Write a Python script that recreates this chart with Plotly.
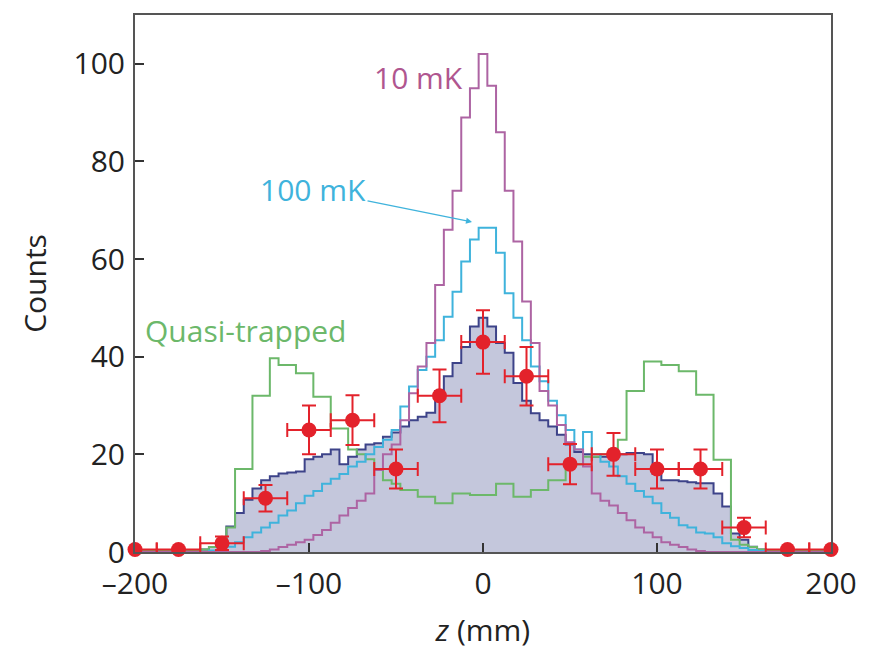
import numpy as np
import plotly.graph_objects as go

# bin centres (mm), 5 mm bins
z_bins = list(range(-200, 205, 5))

counts_10mK = [0]*15 + [0.2,0.5,1,1.5,2,2.5,3.5,4.5,6,7.5,9,10.5,12,16.8,20,22,27,32.5,38,42.8,54.7,66,74,89,95,
               102,
               95.5,86,74,63.6,51.3,42.8,33,30,26,22.5,21,17.5,12,10.5,9.5,8,6.5,5,4,3,2,1.5,1,0.5,0.2] + [0]*15

counts_100mK = [0]*9 + [0.3,0.6,1.1,2,3,4,5,6,7.5,8.5,10,11.5,12.5,14,15,16,17.5,18.5,20,21.5,23,25,29.8,33.9,37.3,40,43.4,48.2,53.3,59.5,64,
                66.4,
                66.4,61.3,53,48,43.4,38,35,31,28,25,21,24.6,20,18.5,17.5,15.5,14,12.5,11.3,10,8,7,5.5,5,4,3.8,3,1.8,1.2,0.8,0.4,0.2] + [0]*8

counts_quasi = [0.3]*8 + [0.5,1,2.5,5,17,17,32,32,39.7,38.3,38.3,36.6,36.6,31.8,31.8,25.3,25.3,21,20,19,17,14.7,14,12.7,12.7,11.3,11.3,10,10,12,12,11.7,
                11.7,
                11.7,14,14,11.3,11.3,12.7,12.7,14.7,14.7,18.2,18,19.5,19.5,20,21,23,33,33,39,39,38.3,38.3,37,37,32.2,32.2,18.9,18.9,2.5,1.5,1,0.5] + [0.3]*8

counts_model = [0.2]*8 + [0.5,1,2.5,5.2,8,10.7,13,14.7,15.5,16.1,16.3,16.5,19,19.5,20,21,18,19.5,21,22,22.3,23.6,24.5,25.7,27,27.7,28.5,33,36,38.7,42,46.2,
                48,
                46.2,42.8,40.8,34.6,31,28.4,27,25.7,24,22,20.5,20,19.5,19.5,19.5,20,20.3,20.3,20,16,14.7,14.7,14.5,14.3,14.1,14.1,12,9.3,3.8,2.5,1.1,0.5] + [0.2]*8

# measured data points
z_data = [-200,-175,-150,-125,-100,-75,-50,-25,0,25,50,75,100,125,150,175,200]
c_data = [0.5,0.5,1.8,11,25,27,17,32,43,36,18,20,17,17,5,0.5,0.5]
err_y = [0,0,1.4,2.7,5,5.1,4,5.4,6.5,6,4.1,4.4,4,4,2,0,0]
err_x = [12.5]*17

x_tickvals = [-200, -100, 0, 100, 200]
x_ticktext = ["\u2013200", "\u2013100", "0", "100", "200"]
y_tickvals = [0, 20, 40, 60, 80, 100]

PURPLE = "#ad64a3"
CYAN = "#3fb3dc"
GREEN = "#6cb86a"
NAVY = "#3d4389"
FILL = "#c4c7dc"
RED = "#e3222b"
FONT = "Open Sans"
FS = 30

fig = go.Figure()
fig.add_trace(go.Scatter(x=z_bins, y=counts_model, mode="lines", line=dict(shape="hvh", color=NAVY, width=2),
                         fill="tozeroy", fillcolor=FILL, showlegend=False))
fig.add_trace(go.Scatter(x=z_bins, y=counts_quasi, mode="lines", line=dict(shape="hvh", color=GREEN, width=2), showlegend=False))
fig.add_trace(go.Scatter(x=z_bins, y=counts_100mK, mode="lines", line=dict(shape="hvh", color=CYAN, width=2), showlegend=False))
fig.add_trace(go.Scatter(x=z_bins, y=counts_10mK, mode="lines", line=dict(shape="hvh", color=PURPLE, width=2), showlegend=False))
fig.add_trace(go.Scatter(x=z_data, y=c_data, mode="markers", cliponaxis=False,
                         marker=dict(color=RED, size=15),
                         error_x=dict(type="data", array=err_x, color=RED, thickness=2, width=7),
                         error_y=dict(type="data", array=err_y, color=RED, thickness=2, width=7),
                         showlegend=False))

fig.add_annotation(x=-37.3, y=97.1, text="10 mK", showarrow=False, font=dict(family=FONT, size=FS, color="#b0568f"))
fig.add_annotation(x=-136.6, y=45.3, text="Quasi-trapped", showarrow=False, font=dict(family=FONT, size=FS, color=GREEN))
fig.add_annotation(x=-6.3, y=67.6, ax=-159, ay=-32, text="100 mK", showarrow=True, arrowhead=2, arrowsize=1,
                   arrowwidth=1.2, arrowcolor=CYAN, font=dict(family=FONT, size=FS, color=CYAN))

axis_common = dict(showgrid=False, zeroline=False, ticks="inside", ticklen=9, tickwidth=1.5, tickcolor="#333",
                   showline=True, linecolor="#555", linewidth=2, mirror=True, automargin=False,
                   tickfont=dict(family=FONT, size=FS, color="#222"))
fig.update_xaxes(range=[-200, 200], tickvals=x_tickvals, ticktext=x_ticktext, ticklabelstandoff=4,
                 title=dict(text="<i>z</i> (mm)", font=dict(family=FONT, size=FS, color="#222"), standoff=26), **axis_common)
fig.update_yaxes(range=[0, 110], tickvals=y_tickvals, ticklabelstandoff=2,
                 title=dict(text="Counts", font=dict(family=FONT, size=FS, color="#222"), standoff=18), **axis_common)
# page body has an 8 px margin, so the figure is sized to fit the 883x650 window
fig.update_layout(width=875, height=642, margin=dict(l=127, r=52, t=7, b=98),
                  plot_bgcolor="white", paper_bgcolor="white")
fig.write_html("out.html")
